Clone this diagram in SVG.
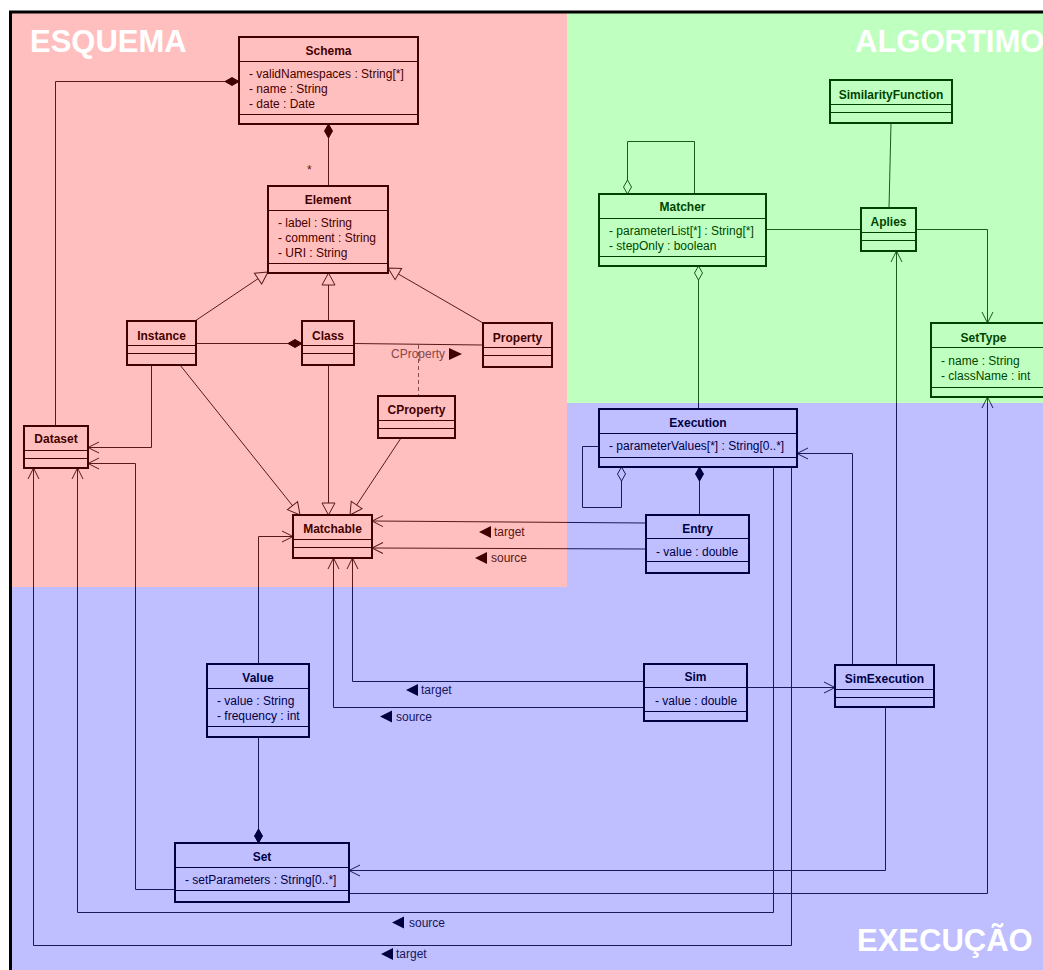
<svg xmlns="http://www.w3.org/2000/svg" width="1043" height="970" viewBox="0 0 1043 970">
  <style>
    .box{fill:#fff;stroke:#000;stroke-width:2}
    .sep{stroke:#000;stroke-width:1;fill:none}
    .t{font-family:"Liberation Sans",Arial,sans-serif;font-size:12px;font-weight:bold;text-anchor:middle;fill:#000}
    .a{font-family:"Liberation Sans",Arial,sans-serif;font-size:12px;fill:#000}
    .c{fill:none;stroke:#222;stroke-width:1}
    .dash{fill:none;stroke:#666;stroke-width:1;stroke-dasharray:4,3}
    .lbl{font-family:"Liberation Sans",Arial,sans-serif;font-size:12px;fill:#222}
    .lbl-soft{font-family:"Liberation Sans",Arial,sans-serif;font-size:12px;fill:#606060}
    .role{fill:#000}
    .zone{font-family:"Liberation Sans",Arial,sans-serif;font-size:31px;font-weight:bold;fill:#fff}
  </style>
  <defs>
    <marker id="open" viewBox="-12 -7 13 14" refX="0" refY="0" markerWidth="13" markerHeight="14" markerUnits="userSpaceOnUse" orient="auto">
      <path d="M-11,-5.5 L0,0 L-11,5.5" fill="none" stroke="#222" stroke-width="1"/>
    </marker>
    <marker id="gen" viewBox="-14 -8 15 16" refX="0" refY="0" markerWidth="15" markerHeight="16" markerUnits="userSpaceOnUse" orient="auto">
      <path d="M0,0 L-12,-6.5 L-12,6.5 Z" fill="#fff" stroke="#222" stroke-width="1"/>
    </marker>
    <marker id="comp" viewBox="-15 -5 16 10" refX="0" refY="0" markerWidth="16" markerHeight="10" markerUnits="userSpaceOnUse" orient="auto">
      <path d="M0,0 L-7,-4 L-14,0 L-7,4 Z" fill="#000" stroke="#000" stroke-width="1"/>
    </marker>
    <marker id="aggr" viewBox="-15 -5 16 10" refX="0" refY="0" markerWidth="16" markerHeight="10" markerUnits="userSpaceOnUse" orient="auto">
      <path d="M0,0 L-7,-4 L-14,0 L-7,4 Z" fill="#fff" stroke="#222" stroke-width="1"/>
    </marker>
  </defs>

  <rect x="0" y="0" width="1043" height="970" fill="#fff"/>

  <!-- associations, generalizations and compositions -->
  <g id="connectors">
    <path class="c" d="M328.5,186 V124" marker-end="url(#comp)"/>
    <path class="c" d="M55.5,426 V81.5 H239" marker-end="url(#comp)"/>
    <path class="c" d="M195,321 L268,272" marker-end="url(#gen)"/>
    <path class="c" d="M328.5,321 V273" marker-end="url(#gen)"/>
    <path class="c" d="M483,323 L388,268" marker-end="url(#gen)"/>
    <path class="c" d="M196,343.5 H302" marker-end="url(#comp)"/>
    <path class="c" d="M354,343.5 L483,345"/>
    <path class="dash" d="M418.5,345 V396"/>
    <path class="c" d="M180,365 L300,515" marker-end="url(#gen)"/>
    <path class="c" d="M328.5,365 V515" marker-end="url(#gen)"/>
    <path class="c" d="M401,438 L350,515" marker-end="url(#gen)"/>
    <path class="c" d="M151.5,365 V447.5 H88" marker-end="url(#open)"/>
    <path class="c" d="M175,889.5 H135.5 V463.5 H88" marker-end="url(#open)"/>
    <path class="c" d="M349,893.5 H987.5 V397" marker-end="url(#open)"/>
    <path class="c" d="M773.5,467 V912.5 H77.5 V468" marker-end="url(#open)"/>
    <path class="c" d="M791.5,467 V945.5 H33.5 V468" marker-end="url(#open)"/>
    <path class="c" d="M258.5,664 V536.5 H293" marker-end="url(#open)"/>
    <path class="c" d="M258.5,737 V843" marker-end="url(#comp)"/>
    <path class="c" d="M644,681.5 H352.5 V558" marker-end="url(#open)"/>
    <path class="c" d="M644,707.5 H333.5 V558" marker-end="url(#open)"/>
    <path class="c" d="M646,523 L372,521" marker-end="url(#open)"/>
    <path class="c" d="M646,549 L372,548" marker-end="url(#open)"/>
    <path class="c" d="M699.5,515 V467" marker-end="url(#comp)"/>
    <path class="c" d="M599,446.5 H582.5 V507.5 H621.5 V467" marker-end="url(#aggr)"/>
    <path class="c" d="M698.5,409 V266" marker-end="url(#aggr)"/>
    <path class="c" d="M694.5,194 V141.5 H627.5 V194" marker-end="url(#aggr)"/>
    <path class="c" d="M766,229.5 H861"/>
    <path class="c" d="M891,123 L889,208"/>
    <path class="c" d="M916,229.5 H987.5 V323" marker-end="url(#open)"/>
    <path class="c" d="M896.5,665 V251" marker-end="url(#open)"/>
    <path class="c" d="M852.5,665 V453.5 H797" marker-end="url(#open)"/>
    <path class="c" d="M747,687.5 H835" marker-end="url(#open)"/>
    <path class="c" d="M885.5,707 V870.5 H349" marker-end="url(#open)"/>

    <!-- multiplicity and role names -->
    <text class="lbl" x="307" y="174">*</text>
    <text class="lbl-soft" x="391" y="358">CProperty</text>
    <polygon class="role" points="449,348 462,354 449,360"/>
    <polygon class="role" points="479,532 491,526 491,538"/>
    <text class="lbl" x="494" y="536">target</text>
    <polygon class="role" points="475,558 487,552 487,564"/>
    <text class="lbl" x="491" y="562">source</text>
    <polygon class="role" points="406,690 418,684 418,696"/>
    <text class="lbl" x="421" y="694">target</text>
    <polygon class="role" points="380,716.5 392,710.5 392,722.5"/>
    <text class="lbl" x="396" y="720.5">source</text>
    <polygon class="role" points="392,922.5 404,916.5 404,928.5"/>
    <text class="lbl" x="409" y="926.5">source</text>
    <polygon class="role" points="381,954 393,948 393,960"/>
    <text class="lbl" x="396" y="958">target</text>
  </g>

  <!-- classes -->
  <g id="Schema">
    <rect class="box" x="239" y="37" width="179" height="87"/>
    <path class="sep" d="M239,61.5 H418 M239,114.5 H418"/>
    <text class="t" x="328.5" y="55">Schema</text>
    <text class="a" x="249" y="77.5">- validNamespaces : String[*]</text>
    <text class="a" x="249" y="92.5">- name : String</text>
    <text class="a" x="249" y="107.5">- date : Date</text>
  </g>
  <g id="Element">
    <rect class="box" x="268" y="186" width="120" height="87"/>
    <path class="sep" d="M268,210.5 H388 M268,263.5 H388"/>
    <text class="t" x="328" y="203.5">Element</text>
    <text class="a" x="278" y="226.5">- label : String</text>
    <text class="a" x="278" y="241.5">- comment : String</text>
    <text class="a" x="278" y="256.5">- URI : String</text>
  </g>
  <g id="Instance">
    <rect class="box" x="127" y="321" width="69" height="44"/>
    <path class="sep" d="M127,345.5 H196 M127,353.5 H196"/>
    <text class="t" x="161.5" y="339.5">Instance</text>
  </g>
  <g id="Class">
    <rect class="box" x="302" y="321" width="52" height="44"/>
    <path class="sep" d="M302,345.5 H354 M302,353.5 H354"/>
    <text class="t" x="328" y="339.5">Class</text>
  </g>
  <g id="Property">
    <rect class="box" x="483" y="323" width="69" height="44"/>
    <path class="sep" d="M483,347.5 H552 M483,355.5 H552"/>
    <text class="t" x="517.5" y="341.5">Property</text>
  </g>
  <g id="CProperty">
    <rect class="box" x="378" y="396" width="77" height="42"/>
    <path class="sep" d="M378,420.5 H455 M378,428.5 H455"/>
    <text class="t" x="416.5" y="413.5">CProperty</text>
  </g>
  <g id="Dataset">
    <rect class="box" x="24" y="426" width="64" height="42"/>
    <path class="sep" d="M24,450.5 H88 M24,458.5 H88"/>
    <text class="t" x="56" y="443">Dataset</text>
  </g>
  <g id="Matchable">
    <rect class="box" x="293" y="515" width="79" height="43"/>
    <path class="sep" d="M293,539.5 H372 M293,547.5 H372"/>
    <text class="t" x="332.5" y="533">Matchable</text>
  </g>
  <g id="Matcher">
    <rect class="box" x="599" y="194" width="167" height="72"/>
    <path class="sep" d="M599,218.5 H766 M599,256.5 H766"/>
    <text class="t" x="682.5" y="211">Matcher</text>
    <text class="a" x="609" y="234.5">- parameterList[*] : String[*]</text>
    <text class="a" x="609" y="249.5">- stepOnly : boolean</text>
  </g>
  <g id="SimilarityFunction">
    <rect class="box" x="830" y="80" width="122" height="43"/>
    <path class="sep" d="M830,104.5 H952 M830,112.5 H952"/>
    <text class="t" x="891" y="98.5">SimilarityFunction</text>
  </g>
  <g id="Aplies">
    <rect class="box" x="861" y="208" width="55" height="43"/>
    <path class="sep" d="M861,232.5 H916 M861,240.5 H916"/>
    <text class="t" x="888.5" y="226">Aplies</text>
  </g>
  <g id="SetType">
    <rect class="box" x="931" y="323" width="120" height="74"/>
    <path class="sep" d="M931,347.5 H1051 M931,387.5 H1051"/>
    <text class="t" x="983.5" y="341.5">SetType</text>
    <text class="a" x="941" y="364.5">- name : String</text>
    <text class="a" x="941" y="379.5">- className : int</text>
  </g>
  <g id="Execution">
    <rect class="box" x="599" y="409" width="198" height="58"/>
    <path class="sep" d="M599,433.5 H797 M599,457.5 H797"/>
    <text class="t" x="698" y="427">Execution</text>
    <text class="a" x="609" y="450">- parameterValues[*] : String[0..*]</text>
  </g>
  <g id="Entry">
    <rect class="box" x="646" y="515" width="103" height="58"/>
    <path class="sep" d="M646,538.5 H749 M646,561.5 H749"/>
    <text class="t" x="697.5" y="532.5">Entry</text>
    <text class="a" x="656" y="556">- value : double</text>
  </g>
  <g id="Value">
    <rect class="box" x="207" y="664" width="102" height="73"/>
    <path class="sep" d="M207,688.5 H309 M207,726.5 H309"/>
    <text class="t" x="258" y="682">Value</text>
    <text class="a" x="217" y="705">- value : String</text>
    <text class="a" x="217" y="720">- frequency : int</text>
  </g>
  <g id="Set">
    <rect class="box" x="175" y="843" width="174" height="59"/>
    <path class="sep" d="M175,867.5 H349 M175,890.5 H349"/>
    <text class="t" x="262" y="861">Set</text>
    <text class="a" x="185" y="884">- setParameters : String[0..*]</text>
  </g>
  <g id="Sim">
    <rect class="box" x="644" y="664" width="103" height="57"/>
    <path class="sep" d="M644,687.5 H747 M644,711.5 H747"/>
    <text class="t" x="695.5" y="681">Sim</text>
    <text class="a" x="655" y="704.5">- value : double</text>
  </g>
  <g id="SimExecution">
    <rect class="box" x="835" y="665" width="99" height="42"/>
    <path class="sep" d="M835,689.5 H934 M835,697.5 H934"/>
    <text class="t" x="884.5" y="683">SimExecution</text>
  </g>

  <!-- translucent package zones -->
  <g id="zones">
    <rect x="12" y="13" width="555" height="574" fill="#ff0000" fill-opacity="0.25"/>
    <rect x="567" y="13" width="476" height="390" fill="#00ff00" fill-opacity="0.25"/>
    <path d="M567,403 H1043 V970 H12 V587 H567 Z" fill="#0000ff" fill-opacity="0.25"/>
  </g>
  <path d="M10.5,970 V12 H1043" fill="none" stroke="#000" stroke-width="3"/>

  <g id="zone-titles">
    <text class="zone" x="30" y="52">ESQUEMA</text>
    <text class="zone" x="855" y="52">ALGORTIMO</text>
    <text class="zone" x="857" y="951">EXECUÇÃO</text>
  </g>
</svg>
